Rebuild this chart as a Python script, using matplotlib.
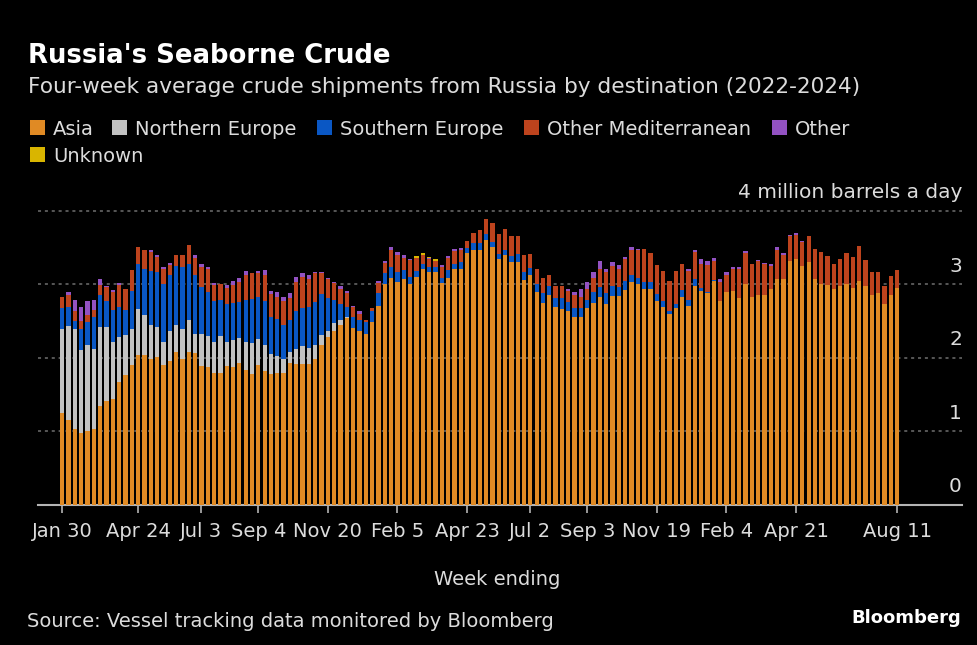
import matplotlib
matplotlib.use("Agg")
import matplotlib.pyplot as plt
from matplotlib.patches import Rectangle
import numpy as np
import pandas as pd

# weekly data, million barrels a day, week ending Sunday
weeks = pd.date_range("2022-01-30", "2024-08-11", freq="W-SUN")

asia = [1.25, 1.16, 1.03, 0.98, 1.00, 1.03, 1.35, 1.41, 1.44, 1.67,
        1.76, 1.90, 2.04, 2.04, 1.98, 2.01, 1.90, 1.96, 2.08, 1.99,
        2.08, 2.06, 1.89, 1.87, 1.79, 1.80, 1.89, 1.88, 1.93, 1.83,
        1.78, 1.90, 1.82, 1.78, 1.80, 1.80, 1.93, 1.91, 1.91, 1.92,
        1.99, 2.17, 2.28, 2.37, 2.45, 2.54, 2.41, 2.36, 2.32, 2.49,
        2.71, 3.00, 3.09, 3.03, 3.07, 3.00, 3.10, 3.20, 3.17, 3.17,
        3.02, 3.09, 3.20, 3.21, 3.42, 3.47, 3.47, 3.60, 3.51, 3.34,
        3.39, 3.30, 3.30, 3.06, 3.12, 2.90, 2.75, 2.86, 2.69, 2.66,
        2.64, 2.56, 2.55, 2.67, 2.75, 2.82, 2.73, 2.84, 2.84, 2.92,
        3.03, 3.00, 2.93, 2.93, 2.77, 2.69, 2.60, 2.67, 2.83, 2.70,
        2.97, 2.91, 2.88, 3.04, 2.77, 2.90, 2.91, 2.81, 3.00, 2.83,
        2.85, 2.86, 2.93, 3.07, 3.07, 3.32, 3.34, 3.25, 3.30, 3.07,
        3.00, 2.99, 2.93, 2.97, 3.00, 2.95, 3.05, 2.97, 2.86, 2.88,
        2.73, 2.86, 2.95]

northern_europe = [1.14, 1.27, 1.36, 1.12, 1.18, 1.09, 1.07, 1.01, 0.77, 0.61,
                   0.55, 0.49, 0.62, 0.54, 0.46, 0.41, 0.32, 0.41, 0.37, 0.40,
                   0.44, 0.27, 0.43, 0.43, 0.42, 0.49, 0.32, 0.36, 0.34, 0.38,
                   0.42, 0.35, 0.35, 0.27, 0.23, 0.18, 0.15, 0.21, 0.25, 0.21,
                   0.19, 0.14, 0.08, 0.10, 0.06, 0.01] + [0.0] * 87

southern_europe = [0.28, 0.26, 0.11, 0.29, 0.30, 0.43, 0.44, 0.35, 0.44, 0.41,
                   0.34, 0.52, 0.61, 0.62, 0.74, 0.75, 0.78, 0.76, 0.80, 0.85,
                   0.76, 0.79, 0.64, 0.60, 0.56, 0.49, 0.52, 0.51, 0.49, 0.58,
                   0.60, 0.58, 0.60, 0.51, 0.50, 0.46, 0.44, 0.51, 0.51, 0.56,
                   0.58, 0.56, 0.45, 0.32, 0.22, 0.14, 0.15, 0.16, 0.17, 0.15,
                   0.17, 0.15, 0.15, 0.13, 0.12, 0.10, 0.08, 0.08, 0.06, 0.07,
                   0.07, 0.10, 0.08, 0.09, 0.07, 0.09, 0.09, 0.08, 0.07, 0.07,
                   0.08, 0.08, 0.11, 0.10, 0.10, 0.10, 0.13, 0.11, 0.12, 0.15,
                   0.12, 0.12, 0.12, 0.12, 0.15, 0.14, 0.15, 0.14, 0.12, 0.13,
                   0.10, 0.09, 0.10, 0.10, 0.10, 0.08, 0.04, 0.06, 0.09, 0.09,
                   0.10, 0.04, 0.02, 0.02] + [0.0] * 29

other_med = [0.16, 0.16, 0.14, 0.11, 0.10, 0.10, 0.13, 0.19, 0.24, 0.30,
             0.29, 0.28, 0.23, 0.26, 0.26, 0.20, 0.21, 0.13, 0.15, 0.16,
             0.25, 0.24, 0.28, 0.31, 0.22, 0.22, 0.22, 0.24, 0.27, 0.34,
             0.35, 0.32, 0.36, 0.31, 0.30, 0.33, 0.29, 0.40, 0.43, 0.38,
             0.39, 0.28, 0.26, 0.22, 0.21, 0.19, 0.13, 0.08, 0.02, 0.04,
             0.13, 0.14, 0.22, 0.24, 0.17, 0.23, 0.17, 0.12, 0.11, 0.08,
             0.14, 0.17, 0.17, 0.16, 0.10, 0.13, 0.18, 0.21, 0.25, 0.27,
             0.28, 0.28, 0.25, 0.24, 0.19, 0.21, 0.20, 0.15, 0.17, 0.17,
             0.15, 0.17, 0.16, 0.14, 0.18, 0.25, 0.28, 0.27, 0.24, 0.29,
             0.34, 0.37, 0.45, 0.40, 0.39, 0.41, 0.41, 0.45, 0.36, 0.39,
             0.37, 0.33, 0.36, 0.26, 0.26, 0.23, 0.29, 0.39, 0.42, 0.44,
             0.46, 0.41, 0.32, 0.40, 0.33, 0.33, 0.33, 0.32, 0.35, 0.41,
             0.44, 0.39, 0.34, 0.37, 0.42, 0.42, 0.47, 0.36, 0.30, 0.28,
             0.25, 0.25, 0.24]

other = [0.00, 0.05, 0.14, 0.19, 0.19, 0.14, 0.08, 0.02, 0.03, 0.02,
         0.00, 0.00, 0.00, 0.00, 0.02, 0.03, 0.02, 0.03, 0.00, 0.00,
         0.00, 0.03, 0.03, 0.03, 0.03, 0.00, 0.04, 0.06, 0.06, 0.05,
         0.00, 0.03, 0.06, 0.04, 0.07, 0.05, 0.07, 0.07, 0.05, 0.05,
         0.02, 0.02, 0.02, 0.02, 0.04, 0.03, 0.01, 0.04, 0.00, 0.00,
         0.03, 0.03, 0.04, 0.04, 0.03, 0.01, 0.00, 0.00, 0.01, 0.00,
         0.03, 0.02, 0.03, 0.03, 0.00, 0.00, 0.00, 0.00, 0.00, 0.00,
         0.00, 0.00, 0.00, 0.00, 0.00, 0.00, 0.00, 0.00, 0.00, 0.00,
         0.03, 0.04, 0.10, 0.10, 0.09, 0.11, 0.04, 0.05, 0.06, 0.03,
         0.03, 0.02, 0.00, 0.00, 0.00, 0.00, 0.00, 0.00, 0.00, 0.02,
         0.02, 0.06, 0.05, 0.03, 0.04, 0.04, 0.03, 0.03, 0.03, 0.00,
         0.02, 0.02, 0.03, 0.03, 0.02, 0.02, 0.02, 0.02, 0.00, 0.00,
         0.00, 0.00, 0.00, 0.00, 0.00, 0.00, 0.00, 0.00, 0.00, 0.00,
         0.00, 0.00, 0.00]

unknown = [0.0] * 56 + [0.03, 0.03, 0.02, 0.02] + [0.0] * 73

series_names = ["Asia", "Northern Europe", "Southern Europe",
                "Other Mediterranean", "Other", "Unknown"]
series_colors = ["#e08a24", "#c2c2c2", "#0a57c4", "#bd431d", "#9352c2", "#d9b500"]

tick_dates = ["2022-01-30", "2022-04-24", "2022-07-03", "2022-09-04", "2022-11-20",
              "2023-02-05", "2023-04-23", "2023-07-02", "2023-09-03", "2023-11-19",
              "2024-02-04", "2024-04-21", "2024-08-11"]
tick_labels = ["Jan 30", "Apr 24", "Jul 3", "Sep 4", "Nov 20", "Feb 5", "Apr 23",
               "Jul 2", "Sep 3", "Nov 19", "Feb 4", "Apr 21", "Aug 11"]

y_ticks = [0, 1, 2, 3, 4]
y_labels = ["0", "1", "2", "3", "4 million barrels a day"]

W, H = 977, 645
BG = "#000000"
TXT = "#dcdcdc"

plt.rcParams["font.family"] = ["DejaVu Sans"]


def fx(x):
    return x / W


def fy(y):
    return 1 - y / H


fig = plt.figure(figsize=(W / 100, H / 100), dpi=100, facecolor=BG)

# axes: x from 38px to 962px, zero line at y=505px, 73.6 px per unit
ymax = 4.3
ax = fig.add_axes([fx(38), fy(505), (962 - 38) / W, ymax * 73.6 / H])
ax.set_facecolor(BG)

x = np.arange(len(weeks))
all_series = [asia, northern_europe, southern_europe, other_med, other, unknown]
bottom = np.zeros(len(weeks))
for vals, name, col in zip(all_series, series_names, series_colors):
    vals = np.array(vals)
    ax.bar(x, vals, bottom=bottom, width=0.68, color=col, linewidth=0, label=name, zorder=3)
    bottom = bottom + vals

ax.set_xlim(-3.83, 142.24)
ax.set_ylim(0, ymax)

# dotted gridlines
for v in y_ticks[1:]:
    ax.axhline(v, color="#6e6e6e", lw=1.1, ls=(0, (2, 2.5)), zorder=1)

for v, lab in zip(y_ticks, y_labels):
    ax.annotate(lab, xy=(1.0, v), xycoords=("axes fraction", "data"),
                xytext=(0, 9), textcoords="offset points",
                ha="right", va="baseline", fontsize=14.5, color=TXT)

for s in ["top", "right", "left"]:
    ax.spines[s].set_visible(False)
ax.spines["bottom"].set_color("#b4b4b4")
ax.spines["bottom"].set_linewidth(1.5)
ax.set_yticks([])

tick_pos = weeks.get_indexer(pd.to_datetime(tick_dates))
ax.set_xticks(tick_pos)
ax.set_xticklabels(tick_labels)
ax.tick_params(axis="x", colors="#b4b4b4", length=6, width=1.2, pad=6,
               labelsize=14, labelcolor=TXT)

# titles
fig.text(fx(28), fy(63), "Russia's Seaborne Crude", fontsize=18.7, fontweight="bold",
         color="white", ha="left", va="baseline")
fig.text(fx(28), fy(93), "Four-week average crude shipments from Russia by destination (2022-2024)",
         fontsize=15.6, color=TXT, ha="left", va="baseline")

# legend drawn by hand, two rows
legend_pos = [(30, 135), (112, 135), (317, 135), (524, 135), (772, 135), (30, 162)]
for (lx, ly), name, col in zip(legend_pos, series_names, series_colors):
    fig.add_artist(Rectangle((fx(lx), fy(ly)), 15 / W, 15 / H, transform=fig.transFigure,
                             facecolor=col, edgecolor="none"))
    fig.text(fx(lx + 23), fy(ly), name, fontsize=14, color=TXT, ha="left", va="baseline")

fig.text(fx(497), fy(585), "Week ending", fontsize=14, color=TXT, ha="center", va="baseline")
fig.text(fx(27), fy(627), "Source: Vessel tracking data monitored by Bloomberg",
         fontsize=14, color=TXT, ha="left", va="baseline")
fig.text(fx(961), fy(623), "Bloomberg", fontsize=13, fontweight="bold", color="white",
         ha="right", va="baseline")

fig.savefig("out.png", dpi=100, facecolor=BG)
